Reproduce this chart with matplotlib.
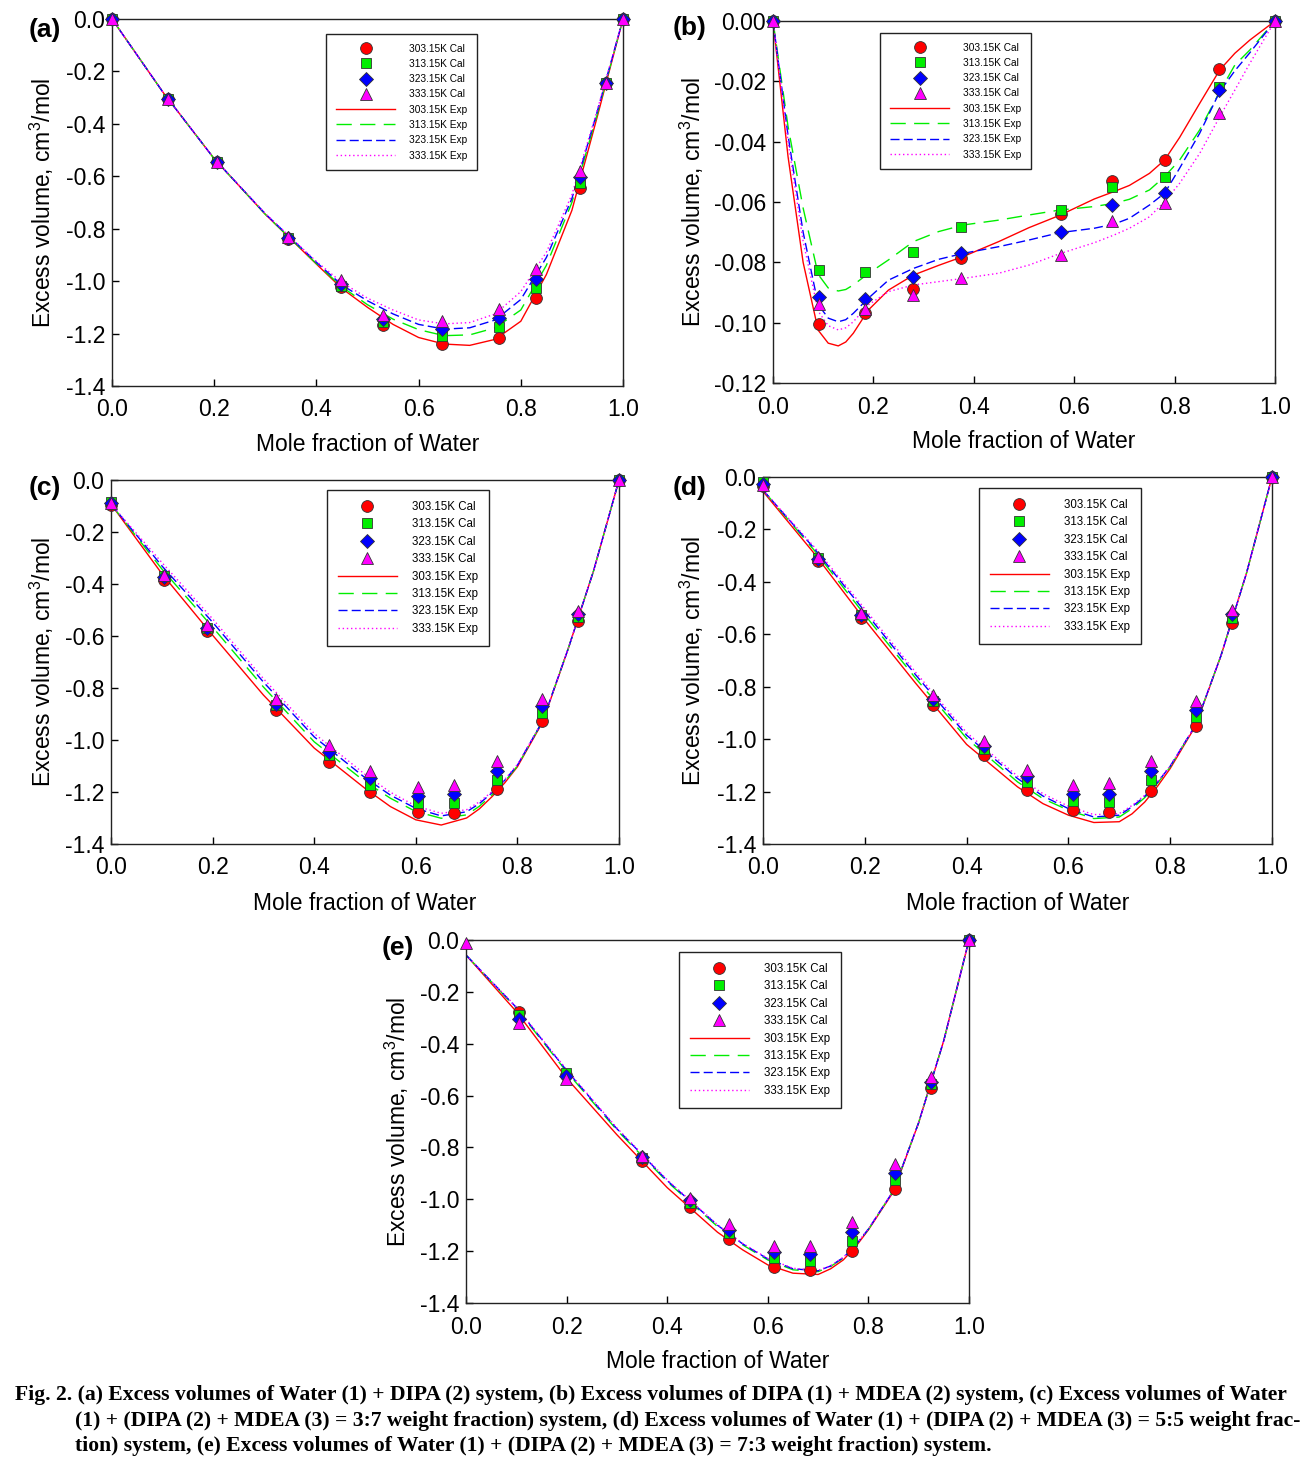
import matplotlib
matplotlib.use("Agg")
import matplotlib.pyplot as plt
from matplotlib.ticker import FormatStrFormatter, MultipleLocator
import numpy as np

plt.rcParams['font.family'] = ['Liberation Sans', 'DejaVu Sans']
plt.rcParams['axes.unicode_minus'] = False
plt.rcParams['mathtext.default'] = 'regular'

# ---------------- data ----------------
temps = ['303.15K', '313.15K', '323.15K', '333.15K']

# (a) Water + DIPA
xa_pts = [0, 0.11, 0.206, 0.345, 0.448, 0.53, 0.646, 0.758, 0.829, 0.915, 0.966, 1.0]
cal_a_303 = [0, -0.305, -0.547, -0.840, -1.022, -1.169, -1.239, -1.216, -1.065, -0.646, -0.245, 0]
cal_a_313 = [0, -0.305, -0.547, -0.837, -1.020, -1.157, -1.208, -1.176, -1.028, -0.626, -0.245, 0]
cal_a_323 = [0, -0.305, -0.547, -0.837, -1.009, -1.143, -1.182, -1.141, -0.990, -0.603, -0.245, 0]
cal_a_333 = [0, -0.305, -0.547, -0.832, -0.996, -1.128, -1.151, -1.107, -0.952, -0.581, -0.245, 0]
xa_fit = [0, 0.1, 0.2, 0.3, 0.4, 0.45, 0.5, 0.55, 0.6, 0.65, 0.7, 0.75, 0.8, 0.85, 0.9, 0.95, 1.0]
exp_a_303 = [0, -0.280, -0.533, -0.745, -0.935, -1.028, -1.100, -1.165, -1.215, -1.240, -1.245, -1.222, -1.153, -0.975, -0.730, -0.370, 0]
exp_a_313 = [0, -0.280, -0.533, -0.745, -0.933, -1.022, -1.090, -1.145, -1.185, -1.208, -1.205, -1.178, -1.110, -0.940, -0.700, -0.360, 0]
exp_a_323 = [0, -0.280, -0.533, -0.743, -0.928, -1.015, -1.075, -1.125, -1.165, -1.183, -1.178, -1.148, -1.070, -0.910, -0.685, -0.350, 0]
exp_a_333 = [0, -0.280, -0.533, -0.742, -0.925, -1.005, -1.065, -1.110, -1.148, -1.163, -1.158, -1.125, -1.040, -0.890, -0.670, -0.345, 0]

# (b) DIPA + MDEA
xb_pts = [0, 0.091, 0.184, 0.278, 0.375, 0.574, 0.676, 0.781, 0.889, 1.0]
cal_b_303 = [0, -0.1004, -0.0969, -0.0887, -0.0785, -0.0640, -0.0529, -0.0461, -0.0160, 0]
cal_b_313 = [0, -0.0825, -0.0831, -0.0767, -0.0682, -0.0627, -0.0551, -0.0516, -0.0218, 0]
cal_b_323 = [0, -0.0916, -0.0923, -0.0848, -0.0770, -0.0700, -0.0609, -0.0571, -0.0229, 0]
cal_b_333 = [0, -0.0938, -0.0954, -0.0908, -0.0853, -0.0775, -0.0664, -0.0604, -0.0306, 0]
xb_fit = [0, 0.03, 0.06, 0.09, 0.11, 0.13, 0.145, 0.16, 0.19, 0.23, 0.28, 0.33, 0.38, 0.45, 0.51,
          0.57, 0.64, 0.68, 0.71, 0.75, 0.78, 0.81, 0.85, 0.89, 0.92, 0.95, 1.0]
exp_b_303 = [0, -0.045, -0.080, -0.1025, -0.1068, -0.1077, -0.1064, -0.1035, -0.0958, -0.0892, -0.0842,
             -0.0810, -0.0780, -0.0731, -0.0685, -0.0645, -0.0590, -0.0565, -0.0545, -0.0505, -0.0461,
             -0.0386, -0.0273, -0.0162, -0.0107, -0.0063, 0]
exp_b_313 = [0, -0.035, -0.062, -0.0840, -0.0885, -0.0895, -0.0890, -0.0875, -0.0837, -0.0792, -0.0731,
             -0.0698, -0.0676, -0.0660, -0.0643, -0.0627, -0.0615, -0.0604, -0.0591, -0.0560, -0.0516,
             -0.0461, -0.0361, -0.0234, -0.0146, -0.0096, 0]
exp_b_323 = [0, -0.038, -0.070, -0.0940, -0.0985, -0.0997, -0.0990, -0.0969, -0.0919, -0.0859, -0.0820,
             -0.0790, -0.0770, -0.0748, -0.0726, -0.0702, -0.0687, -0.0673, -0.0654, -0.0610, -0.0571,
             -0.0488, -0.0372, -0.0234, -0.0165, -0.0105, 0]
exp_b_333 = [0, -0.040, -0.073, -0.0962, -0.1010, -0.1024, -0.1017, -0.0997, -0.0941, -0.0897, -0.0875,
             -0.0864, -0.0853, -0.0836, -0.0809, -0.0772, -0.0735, -0.0709, -0.0687, -0.0649, -0.0599,
             -0.0538, -0.0439, -0.0317, -0.0229, -0.0140, 0]

# (c) Water + (DIPA + MDEA = 3:7)
xc_pts = [0, 0.104, 0.189, 0.325, 0.429, 0.51, 0.604, 0.675, 0.759, 0.848, 0.92, 1.0]
cal_c_303 = [-0.095, -0.385, -0.581, -0.883, -1.084, -1.201, -1.278, -1.282, -1.190, -0.928, -0.541, 0]
cal_c_313 = [-0.085, -0.368, -0.569, -0.866, -1.058, -1.173, -1.243, -1.243, -1.152, -0.898, -0.528, 0]
cal_c_323 = [-0.090, -0.372, -0.569, -0.863, -1.045, -1.148, -1.215, -1.209, -1.118, -0.870, -0.515, 0]
cal_c_333 = [-0.088, -0.365, -0.556, -0.841, -1.020, -1.119, -1.182, -1.173, -1.081, -0.843, -0.502, 0]
xc_fit = [0, 0.1, 0.2, 0.3, 0.4, 0.5, 0.55, 0.6, 0.65, 0.7, 0.725, 0.75, 0.775, 0.8, 0.85, 0.9, 0.95, 1.0]
exp_c_303 = [-0.093, -0.360, -0.597, -0.827, -1.031, -1.186, -1.256, -1.307, -1.327, -1.300, -1.265, -1.218, -1.165, -1.103, -0.930, -0.649, -0.349, 0]
exp_c_313 = [-0.093, -0.342, -0.566, -0.796, -1.007, -1.160, -1.224, -1.275, -1.301, -1.288, -1.255, -1.211, -1.160, -1.100, -0.926, -0.649, -0.349, 0]
exp_c_323 = [-0.093, -0.330, -0.547, -0.777, -0.988, -1.145, -1.212, -1.263, -1.292, -1.276, -1.245, -1.203, -1.155, -1.097, -0.926, -0.649, -0.349, 0]
exp_c_333 = [-0.093, -0.317, -0.534, -0.764, -0.975, -1.132, -1.201, -1.254, -1.282, -1.268, -1.238, -1.199, -1.152, -1.094, -0.926, -0.649, -0.349, 0]

# (d) Water + (DIPA + MDEA = 5:5)
xd_pts = [0, 0.109, 0.192, 0.334, 0.435, 0.519, 0.610, 0.680, 0.762, 0.851, 0.922, 1.0]
cal_d_303 = [-0.035, -0.322, -0.539, -0.870, -1.059, -1.195, -1.271, -1.278, -1.197, -0.950, -0.558, 0]
cal_d_313 = [-0.020, -0.309, -0.526, -0.854, -1.036, -1.163, -1.236, -1.239, -1.154, -0.915, -0.539, 0]
cal_d_323 = [-0.028, -0.313, -0.526, -0.845, -1.025, -1.141, -1.210, -1.208, -1.122, -0.887, -0.524, 0]
cal_d_333 = [-0.032, -0.306, -0.520, -0.832, -1.008, -1.116, -1.176, -1.169, -1.084, -0.854, -0.507, 0]
xd_fit = [0, 0.1, 0.2, 0.3, 0.4, 0.5, 0.55, 0.6, 0.65, 0.7, 0.725, 0.75, 0.775, 0.8, 0.85, 0.9, 0.95, 1.0]
exp_d_303 = [-0.055, -0.290, -0.545, -0.787, -1.020, -1.182, -1.246, -1.290, -1.318, -1.315, -1.285, -1.240, -1.180, -1.112, -0.949, -0.680, -0.366, 0]
exp_d_313 = [-0.050, -0.278, -0.526, -0.768, -0.997, -1.163, -1.227, -1.271, -1.303, -1.297, -1.265, -1.223, -1.168, -1.106, -0.946, -0.680, -0.366, 0]
exp_d_323 = [-0.050, -0.271, -0.513, -0.755, -0.985, -1.150, -1.217, -1.265, -1.297, -1.290, -1.258, -1.218, -1.165, -1.103, -0.946, -0.680, -0.366, 0]
exp_d_333 = [-0.050, -0.265, -0.503, -0.745, -0.975, -1.141, -1.208, -1.256, -1.288, -1.284, -1.253, -1.214, -1.162, -1.102, -0.946, -0.680, -0.366, 0]

# (e) Water + (DIPA + MDEA = 7:3)
xe_pts = [0, 0.106, 0.198, 0.350, 0.446, 0.523, 0.613, 0.683, 0.768, 0.853, 0.924, 1.0]
cal_e_303 = [np.nan, -0.276, -0.520, -0.852, -1.031, -1.154, -1.260, -1.272, -1.199, -0.961, -0.572, 0]
cal_e_313 = [np.nan, -0.289, -0.514, -0.842, -1.015, -1.131, -1.227, -1.237, -1.159, -0.925, -0.555, 0]
cal_e_323 = [np.nan, -0.306, -0.524, -0.838, -1.003, -1.118, -1.204, -1.211, -1.125, -0.897, -0.546, 0]
cal_e_333 = [-0.013, -0.321, -0.537, -0.833, -0.994, -1.095, -1.180, -1.179, -1.089, -0.865, -0.527, 0]
xe_fit = [0, 0.1, 0.2, 0.3, 0.4, 0.5, 0.55, 0.6, 0.65, 0.7, 0.725, 0.75, 0.775, 0.8, 0.85, 0.9, 0.95, 1.0]
exp_e_303 = [-0.058, -0.276, -0.533, -0.751, -0.955, -1.127, -1.195, -1.253, -1.285, -1.290, -1.268, -1.234, -1.182, -1.118, -0.970, -0.704, -0.387, 0]
exp_e_313 = [-0.058, -0.263, -0.508, -0.733, -0.932, -1.105, -1.176, -1.234, -1.272, -1.279, -1.259, -1.227, -1.177, -1.116, -0.966, -0.704, -0.387, 0]
exp_e_323 = [-0.058, -0.260, -0.503, -0.728, -0.928, -1.100, -1.172, -1.230, -1.268, -1.276, -1.257, -1.225, -1.176, -1.115, -0.966, -0.704, -0.387, 0]
exp_e_333 = [-0.058, -0.258, -0.500, -0.725, -0.925, -1.098, -1.170, -1.228, -1.266, -1.274, -1.256, -1.224, -1.175, -1.114, -0.966, -0.704, -0.387, 0]

caption_lines = [
    "Fig. 2. (a) Excess volumes of Water (1) + DIPA (2) system, (b) Excess volumes of DIPA (1) + MDEA (2) system, (c) Excess volumes of Water",
    "(1) + (DIPA (2) + MDEA (3) = 3:7 weight fraction) system, (d) Excess volumes of Water (1) + (DIPA (2) + MDEA (3) = 5:5 weight frac-",
    "tion) system, (e) Excess volumes of Water (1) + (DIPA (2) + MDEA (3) = 7:3 weight fraction) system.",
]

# ---------------- styling ----------------
W, H = 1316, 1471
colors = ['#FF0000', '#00EE00', '#0000FF', '#FF00FF']
mk = ['o', 's', 'D', '^']
msz = [8.5, 7.5, 7.5, 8.5]
lstyles = ['-', (0, (11, 6)), (0, (6.5, 3)), (0, (1, 2))]

fig = plt.figure(figsize=(W / 100, H / 100), dpi=100)

panels = [
    dict(tag='(a)', box=(112, 623, 19, 386), xp=xa_pts, cal=[cal_a_303, cal_a_313, cal_a_323, cal_a_333],
         xf=xa_fit, exp=[exp_a_303, exp_a_313, exp_a_323, exp_a_333], ylim=(-1.4, 0.0), ystep=0.2, yfmt='%.1f',
         leg=(326, 34), legfs=7.3, hl=5.9, ls=0.52, tagpos=(45, 30), ylx=42, xly=445),
    dict(tag='(b)', box=(773, 1275, 21, 383), xp=xb_pts, cal=[cal_b_303, cal_b_313, cal_b_323, cal_b_333],
         xf=xb_fit, exp=[exp_b_303, exp_b_313, exp_b_323, exp_b_333], ylim=(-0.12, 0.0), ystep=0.02, yfmt='%.2f',
         leg=(880, 33), legfs=7.3, hl=5.9, ls=0.52, tagpos=(690, 28), ylx=692, xly=442),
    dict(tag='(c)', box=(111, 619, 480, 844), xp=xc_pts, cal=[cal_c_303, cal_c_313, cal_c_323, cal_c_333],
         xf=xc_fit, exp=[exp_c_303, exp_c_313, exp_c_323, exp_c_333], ylim=(-1.4, 0.0), ystep=0.2, yfmt='%.1f',
         leg=(327, 490), legfs=8.3, hl=5.1, ls=0.47, tagpos=(45, 488), ylx=42, xly=904),
    dict(tag='(d)', box=(763, 1272, 477, 844), xp=xd_pts, cal=[cal_d_303, cal_d_313, cal_d_323, cal_d_333],
         xf=xd_fit, exp=[exp_d_303, exp_d_313, exp_d_323, exp_d_333], ylim=(-1.4, 0.0), ystep=0.2, yfmt='%.1f',
         leg=(979, 488), legfs=8.3, hl=5.1, ls=0.47, tagpos=(690, 488), ylx=692, xly=904),
    dict(tag='(e)', box=(466, 969, 940, 1303), xp=xe_pts, cal=[cal_e_303, cal_e_313, cal_e_323, cal_e_333],
         xf=xe_fit, exp=[exp_e_303, exp_e_313, exp_e_323, exp_e_333], ylim=(-1.4, 0.0), ystep=0.2, yfmt='%.1f',
         leg=(679, 952), legfs=8.3, hl=5.1, ls=0.47, tagpos=(398, 948), ylx=397, xly=1361),
]

FS = 16.5
for p in panels:
    l, r, t, b = p['box']
    ax = fig.add_axes([l / W, 1 - b / H, (r - l) / W, (b - t) / H])
    line_h = []
    for i in range(4):
        ln, = ax.plot(p['xf'], p['exp'][i], color=colors[i], linestyle=lstyles[i], lw=1.0, zorder=2)
        line_h.append(ln)
    mark_h = []
    for i in range(4):
        m, = ax.plot(p['xp'], p['cal'][i], linestyle='none', marker=mk[i], markersize=msz[i],
                     markerfacecolor=colors[i], markeredgecolor='#333333', markeredgewidth=0.6,
                     clip_on=False, zorder=3 + i)
        mark_h.append(m)
    ax.set_xlim(0, 1)
    ax.set_ylim(*p['ylim'])
    ax.xaxis.set_major_locator(MultipleLocator(0.2))
    ax.yaxis.set_major_locator(MultipleLocator(p['ystep']))
    ax.xaxis.set_major_formatter(FormatStrFormatter('%.1f'))
    ax.yaxis.set_major_formatter(FormatStrFormatter(p['yfmt']))
    ax.tick_params(direction='in', length=5, width=1, labelsize=FS, top=False, right=False)
    ax.tick_params(axis='x', pad=9)
    ax.tick_params(axis='y', pad=5)
    for s in ax.spines.values():
        s.set_linewidth(1.0)
        s.set_color('#222222')
    ax.set_xlabel('Mole fraction of Water', fontsize=FS)
    ax.xaxis.label.set_va('center')
    ax.xaxis.set_label_coords(0.5, -(p['xly'] - b) / (b - t))
    ax.set_ylabel('Excess volume, cm$^3$/mol', fontsize=FS)
    ax.yaxis.label.set_va('center')
    ax.yaxis.set_label_coords((p['ylx'] - l) / (r - l), 0.5)

    labels = [f'{tt} Cal' for tt in temps] + [f'{tt} Exp' for tt in temps]
    leg = ax.legend(mark_h + line_h, labels, loc='upper left',
                    bbox_to_anchor=(p['leg'][0] / W, 1 - p['leg'][1] / H), bbox_transform=fig.transFigure,
                    fontsize=p['legfs'], handlelength=p['hl'], handletextpad=1.3, labelspacing=p['ls'],
                    borderpad=0.95, borderaxespad=0, frameon=True, fancybox=False, framealpha=1,
                    edgecolor='#222222', numpoints=1)
    leg.get_frame().set_linewidth(1.0)
    fig.text(p['tagpos'][0] / W, 1 - p['tagpos'][1] / H, p['tag'], fontsize=19, fontweight='bold',
             ha='center', va='center')

# caption
cap_pos = [(15, 1395), (75, 1421), (75, 1446)]
caps = []
for (cx, cy), txt in zip(cap_pos, caption_lines):
    caps.append(fig.text(cx / W, 1 - cy / H, txt, fontsize=15, fontweight='bold',
                         family=['Liberation Serif', 'DejaVu Serif'], ha='left', va='center'))
fig.canvas.draw()
bb = caps[0].get_window_extent()
cfs = 15 * (1277 / bb.width)
for c in caps:
    c.set_fontsize(cfs)

fig.savefig('out.png', dpi=100)
